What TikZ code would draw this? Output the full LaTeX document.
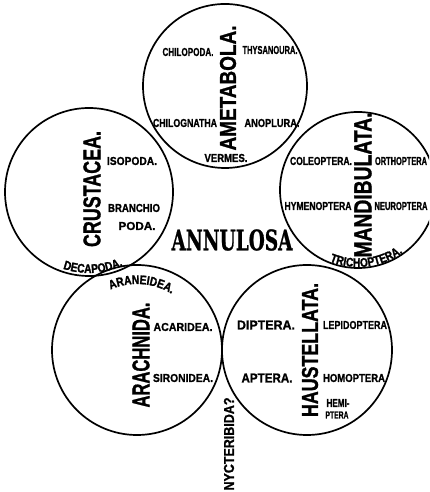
\documentclass[tikz,border=0pt]{standalone}
\usepackage{fontspec}
\newfontfamily\labfont[FakeBold=1.2]{Liberation Sans Bold}
\newfontfamily\annfont[FakeBold=1]{DejaVu Serif Bold}
\newfontfamily\arcfont[FakeStretch=0.82,FakeBold=1.5]{Liberation Sans Bold}
\usetikzlibrary{decorations.text}
\newcommand\fb[3]{\resizebox{#1pt}{#2pt}{\labfont #3}}
\begin{document}
\begin{tikzpicture}[x=1pt,y=1pt,
  ring/.style={draw, line width=1.7pt},
  lab/.style={inner sep=0pt},
  vlab/.style={inner sep=0pt, rotate=90},
  arctext/.style={decorate, decoration={text along path, text align=center, text={|\arcfont\fontsize{12.5}{12.5}\selectfont|#1}}}]
\useasboundingbox (0,0) rectangle (429,492);
\clip (0,0) rectangle (429,492);
% circle centres
\coordinate (cA) at (225,406);
\coordinate (cC) at (89,300);
\coordinate (cM) at (358,302);
\coordinate (cR) at (137,142);
\coordinate (cH) at (307,142);
\draw[ring] (cA) circle[radius=82];
\draw[ring] (cC) circle[radius=84];
\draw[ring] (cM) circle[radius=78];
\draw[ring] (cR) circle[radius=85];
\draw[ring] (cH) circle[radius=85];
% centre title
\node[lab] (annulosa) at (232,252) {\resizebox{121pt}{21pt}{\annfont ANNULOSA}};
% Ametabola
\node[vlab] (ametabola) at (228,404) {\fb{125}{16}{AMETABOLA.}};
\node[lab] (chilopoda) at (188,440) {\fb{51}{8}{CHILOPODA.}};
\node[lab] (thysanoura) at (270,442) {\fb{55}{8}{THYSANOURA.}};
\node[lab] (chilognatha) at (185,369) {\fb{64}{8}{CHILOGNATHA}};
\node[lab] (anoplura) at (272,369) {\fb{55}{8}{ANOPLURA.}};
\node[lab] (vermes) at (226,334) {\fb{43}{8}{VERMES.}};
% Crustacea
\node[vlab] (crustacea) at (92,303) {\fb{116}{17}{CRUSTACEA.}};
\node[lab] (isopoda) at (132,331) {\fb{50}{8}{ISOPODA.}};
\node[lab] (branchio) at (134,284) {\fb{52}{8}{BRANCHIO}};
\node[lab] (poda) at (137,266) {\fb{37}{8}{PODA.}};
\path[arctext={DECAPODA.}] ([shift={(89,300)}]230:81) arc[start angle=230, end angle=316, radius=81];
% Mandibulata
\node[vlab] (mandibulata) at (363,307) {\fb{145}{17}{MANDIBULATA.}};
\node[lab] (coleoptera) at (321,331) {\fb{62}{8}{COLEOPTERA.}};
\node[lab] (orthoptera) at (401,331) {\fb{52}{8}{ORTHOPTERA}};
\node[lab] (hymenoptera) at (318,286) {\fb{67}{8}{HYMENOPTERA}};
\node[lab] (neuroptera) at (401,286) {\fb{53}{8}{NEUROPTERA}};
\path[arctext={TRICHOPTERA.}] ([shift={(358,302)}]225:77) arc[start angle=225, end angle=329, radius=77];
% Arachnida
\node[vlab] (arachnida) at (141,137) {\fb{105}{17}{ARACHNIDA.}};
\node[lab] (acaridea) at (183,165) {\fb{59}{8}{ACARIDEA.}};
\node[lab] (sironidea) at (183,114) {\fb{60}{8}{SIRONIDEA.}};
\path[arctext={ARANEIDEA.}] ([shift={(137,142)}]136:66) arc[start angle=136, end angle=36, radius=66];
% Haustellata
\node[vlab] (haustellata) at (310,142) {\fb{134}{16}{HAUSTELLATA.}};
\node[lab] (diptera) at (266,167) {\fb{58}{9}{DIPTERA.}};
\node[lab] (lepidoptera) at (355,167) {\fb{64}{8}{LEPIDOPTERA}};
\node[lab] (aptera) at (267,114) {\fb{51}{9}{APTERA.}};
\node[lab] (homoptera) at (354,114) {\fb{62}{8}{HOMOPTERA}};
\node[lab] (hemi) at (338,89) {\fb{23}{8}{HEMI-}};
\node[lab] (ptera) at (337,77) {\fb{23}{7}{PTERA}};
% Nycteribida
\node[vlab] (nycteribida) at (229,48) {\fb{93}{10}{NYCTERIBIDA?}};
\end{tikzpicture}
\end{document}
